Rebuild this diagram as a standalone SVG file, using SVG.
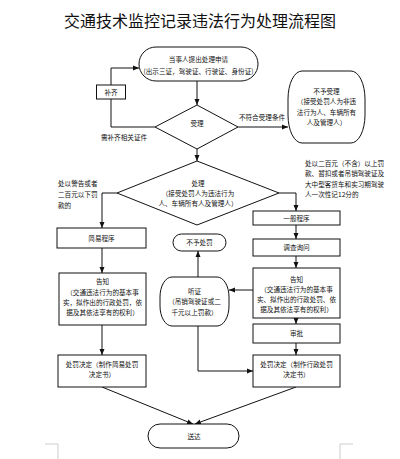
<svg xmlns="http://www.w3.org/2000/svg" width="400" height="459" viewBox="0 0 400 459">
<style>
text{font-family:"Noto Sans CJK SC","Noto Sans",sans-serif;fill:#111;}
.t{font-size:6.6px;text-anchor:middle;}
.l{font-size:6.6px;text-anchor:start;}
.s{fill:#fff;stroke:#111;stroke-width:1;}
.c{fill:none;stroke:#111;stroke-width:1;}
.m{fill:none;stroke:#ccc;stroke-width:1;}
</style>
<defs>
<marker id="a" markerUnits="userSpaceOnUse" markerWidth="6" markerHeight="6" refX="6" refY="3" orient="auto">
<path d="M0,0.5 L6,3 L0,5.5 z" fill="#111"/>
</marker>
</defs>
<rect width="400" height="459" fill="#fff"/>
<text x="200" y="27" style="font-size:16px;text-anchor:middle;">交通技术监控记录违法行为处理流程图</text>

<g id="connectors">
<polyline class="c" points="155,127 111,127 111,99"/>
<polyline class="c" points="111,85 111,68 139,68" marker-end="url(#a)"/>
<line class="c" x1="197" y1="81" x2="197" y2="105" marker-end="url(#a)"/>
<line class="c" x1="238" y1="127" x2="288" y2="127" marker-end="url(#a)"/>
<line class="c" x1="197" y1="149" x2="197" y2="161" marker-end="url(#a)"/>
<polyline class="c" points="117,193 102,193 102,228" marker-end="url(#a)"/>
<polyline class="c" points="279,193 296,193 296,211" marker-end="url(#a)"/>
<line class="c" x1="296" y1="225" x2="296" y2="239" marker-end="url(#a)"/>
<line class="c" x1="296" y1="256" x2="296" y2="268" marker-end="url(#a)"/>
<line class="c" x1="296" y1="318" x2="296" y2="324" marker-end="url(#a)"/>
<line class="c" x1="296" y1="343" x2="296" y2="355" marker-end="url(#a)"/>
<line class="c" x1="102" y1="248" x2="102" y2="273" marker-end="url(#a)"/>
<line class="c" x1="102" y1="325" x2="102" y2="355" marker-end="url(#a)"/>
<line class="c" x1="198" y1="277" x2="198" y2="251" marker-end="url(#a)"/>
<line class="c" x1="253" y1="290" x2="229" y2="290" marker-end="url(#a)"/>
<polyline class="c" points="198,326 198,371 253,371" marker-end="url(#a)"/>
<line class="c" x1="102" y1="387" x2="193" y2="424" marker-end="url(#a)"/>
<line class="c" x1="296" y1="387" x2="195" y2="424" marker-end="url(#a)"/>
<text x="262" y="120" class="t">不符合受理条件</text>
<text x="124" y="140" class="t">需补齐相关证件</text>
<text x="58" y="185.5" class="l">处以警告或者</text>
<text x="58" y="196.5" class="l">二百元以下罚</text>
<text x="58" y="207.5" class="l">款的</text>
<text x="305" y="165.5" class="l">处以二百元（不含）以上罚</text>
<text x="305" y="176" class="l">款、暂扣或者吊销驾驶证及</text>
<text x="305" y="186.5" class="l">大中型客货车和实习期驾驶</text>
<text x="305" y="197" class="l">人一次性记12分的</text>
</g>

<g id="apply">
<rect class="s" x="139" y="47" width="119" height="34" rx="17" ry="17"/>
<text x="198.5" y="62" class="t">当事人提出处理申请</text>
<text x="198.5" y="73.5" class="t">(出示三证，驾驶证、行驶证、身份证)</text>
</g>
<g id="supplement">
<rect class="s" x="96.5" y="85" width="29" height="14"/>
<text x="111" y="94.5" class="t">补齐</text>
</g>
<g id="accept">
<polygon class="s" points="197,105 238,127 197,149 155,127"/>
<text x="197" y="125.5" class="t">受理</text>
</g>
<g id="reject">
<rect class="s" x="288" y="71" width="77" height="72" rx="14" ry="28"/>
<text x="326.5" y="93.5" class="t">不予受理</text>
<text x="326.5" y="104" class="t">（接受处罚人为非违</text>
<text x="326.5" y="114.5" class="t">法行为人、车辆所有</text>
<text x="326.5" y="125" class="t">人及管理人）</text>
</g>
<g id="handle">
<polygon class="s" points="197,161 279,193 197,225 117,193"/>
<text x="198" y="185.5" class="t">处理</text>
<text x="198" y="195.5" class="t">（接受处罚人为违法行为</text>
<text x="198" y="205.5" class="t">人、车辆所有人及管理人）</text>
</g>
<g id="simple">
<rect class="s" x="57" y="228" width="89" height="20"/>
<text x="101.5" y="240.5" class="t">简易程序</text>
</g>
<g id="notify-left">
<rect class="s" x="59" y="273" width="87" height="52"/>
<text x="102.5" y="283.5" class="t">告知</text>
<text x="102.5" y="294.5" class="t">（交通违法行为的基本事</text>
<text x="102.5" y="304.5" class="t">实，拟作出的行政处罚，依</text>
<text x="102.5" y="314.5" class="t">据及其依法享有的权利）</text>
</g>
<g id="decision-left">
<rect class="s" x="58" y="355" width="88" height="32"/>
<text x="102" y="366.5" class="t">处罚决定（制作简易处罚</text>
<text x="102" y="376.5" class="t">决定书）</text>
</g>
<g id="general">
<rect class="s" x="253" y="211" width="87" height="14"/>
<text x="296.5" y="220.5" class="t">一般程序</text>
</g>
<g id="investigate">
<rect class="s" x="253" y="239" width="87" height="17"/>
<text x="296.5" y="250" class="t">调查询问</text>
</g>
<g id="notify-right">
<rect class="s" x="253" y="268" width="87" height="50"/>
<text x="296.5" y="282" class="t">告知</text>
<text x="296.5" y="292" class="t">（交通违法行为的基本事</text>
<text x="296.5" y="302" class="t">实、拟作出的行政处罚、依</text>
<text x="296.5" y="312" class="t">据及其依法享有的权利）</text>
</g>
<g id="approve">
<rect class="s" x="253" y="324" width="87" height="19"/>
<text x="296.5" y="336" class="t">审批</text>
</g>
<g id="decision-right">
<rect class="s" x="253" y="355" width="87" height="32"/>
<text x="296.5" y="366.5" class="t">处罚决定（制作行政处罚</text>
<text x="296.5" y="376.5" class="t">决定书）</text>
</g>
<g id="no-penalty">
<rect class="s" x="173" y="234" width="53" height="17" rx="8.5" ry="8.5"/>
<text x="199.5" y="245" class="t">不予处罚</text>
</g>
<g id="hearing">
<rect class="s" x="160" y="277" width="69" height="49" rx="12" ry="20"/>
<text x="194.5" y="293.5" class="t">听证</text>
<text x="194.5" y="304" class="t">（吊销驾驶证或二</text>
<text x="194.5" y="314.5" class="t">千元以上罚款）</text>
</g>
<g id="deliver">
<rect class="s" x="148" y="424" width="91" height="24" rx="12" ry="12"/>
<text x="194" y="438.5" class="t">送达</text>
</g>
<polyline class="m" points="45,444 58,444 58,459"/>
<polyline class="m" points="353,444 340,444 340,459"/>
</svg>
